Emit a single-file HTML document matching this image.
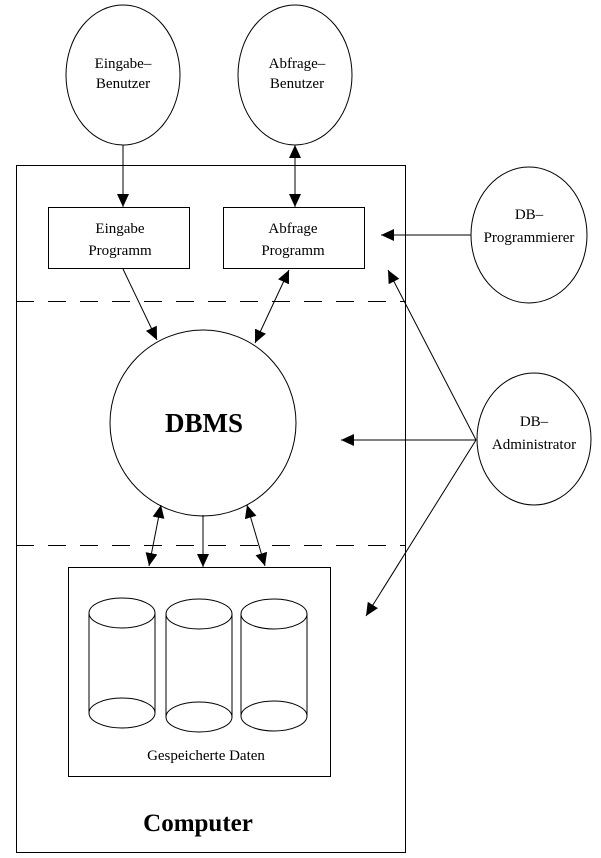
<!DOCTYPE html>
<html><head><meta charset="utf-8"><style>
html,body{margin:0;padding:0;background:#fff;width:601px;height:858px;overflow:hidden}
svg text{font-family:"Liberation Serif",serif;fill:#000}
</style></head><body>
<svg width="601" height="858" viewBox="0 0 601 858" xmlns="http://www.w3.org/2000/svg">
<defs>
<marker id="b" markerWidth="14" markerHeight="14" refX="13" refY="6" orient="auto-start-reverse" markerUnits="userSpaceOnUse">
<path d="M0,0 L13,6 L0,12 Z" fill="#000"/></marker>
</defs>
<g fill="none" stroke="#000" stroke-width="1">
<ellipse cx="123" cy="75" rx="57" ry="70"/>
<ellipse cx="295" cy="75" rx="57" ry="70"/>
<ellipse cx="529" cy="235" rx="58" ry="68"/>
<ellipse cx="534" cy="439" rx="57" ry="66"/>
<rect x="16.5" y="165.5" width="389" height="687"/>
<rect x="48.5" y="207.5" width="141" height="61"/>
<rect x="223.5" y="207.5" width="141" height="61"/>
<line x1="16" y1="301.5" x2="405" y2="301.5" stroke-dasharray="18,14"/>
<line x1="16" y1="545.5" x2="405" y2="545.5" stroke-dasharray="18,14"/>
<circle cx="203" cy="423" r="93"/>
<rect x="68.5" y="567.5" width="262" height="209"/>
<path d="M89,613 V713 M155,613 V713"/><ellipse cx="122" cy="613" rx="33" ry="15" fill="#fff"/><ellipse cx="122" cy="713" rx="33" ry="15"/>
<path d="M166,614 V717 M232,614 V717"/><ellipse cx="199" cy="614" rx="33" ry="15" fill="#fff"/><ellipse cx="199" cy="717" rx="33" ry="15"/>
<path d="M241,614 V716 M307,614 V716"/><ellipse cx="274" cy="614" rx="33" ry="15" fill="#fff"/><ellipse cx="274" cy="716" rx="33" ry="15"/>
<line x1="123" y1="145" x2="123" y2="207" marker-end="url(#b)"/>
<line x1="295" y1="145" x2="295" y2="207" marker-start="url(#b)" marker-end="url(#b)"/>
<line x1="471" y1="235" x2="381" y2="235" marker-end="url(#b)"/>
<line x1="123" y1="269" x2="157" y2="340" marker-end="url(#b)"/>
<line x1="289" y1="270" x2="255" y2="343" marker-start="url(#b)" marker-end="url(#b)"/>
<line x1="476" y1="440" x2="388" y2="270" marker-end="url(#b)"/>
<line x1="476" y1="440" x2="341" y2="440" marker-end="url(#b)"/>
<line x1="476" y1="440" x2="366" y2="616" marker-end="url(#b)"/>
<line x1="161" y1="505" x2="149" y2="566" marker-start="url(#b)" marker-end="url(#b)"/>
<line x1="203" y1="515" x2="203" y2="567" marker-end="url(#b)"/>
<line x1="247" y1="505" x2="265" y2="566" marker-start="url(#b)" marker-end="url(#b)"/>
</g>
<g font-size="15" text-anchor="middle">
<text x="123" y="68">Eingabe–</text><text x="123" y="88">Benutzer</text>
<text x="297" y="68">Abfrage–</text><text x="297" y="88">Benutzer</text>
<text x="120" y="233">Eingabe</text><text x="120" y="255">Programm</text>
<text x="293" y="233">Abfrage</text><text x="293" y="255">Programm</text>
<text x="529" y="219">DB–</text><text x="529" y="242">Programmierer</text>
<text x="534" y="426">DB–</text><text x="534" y="449">Administrator</text>
<text x="206" y="760">Gespeicherte Daten</text>
</g>
<text x="204" y="432" font-size="27" font-weight="bold" text-anchor="middle">DBMS</text>
<text x="198" y="831" font-size="25" font-weight="bold" text-anchor="middle">Computer</text>
</svg>
</body></html>
